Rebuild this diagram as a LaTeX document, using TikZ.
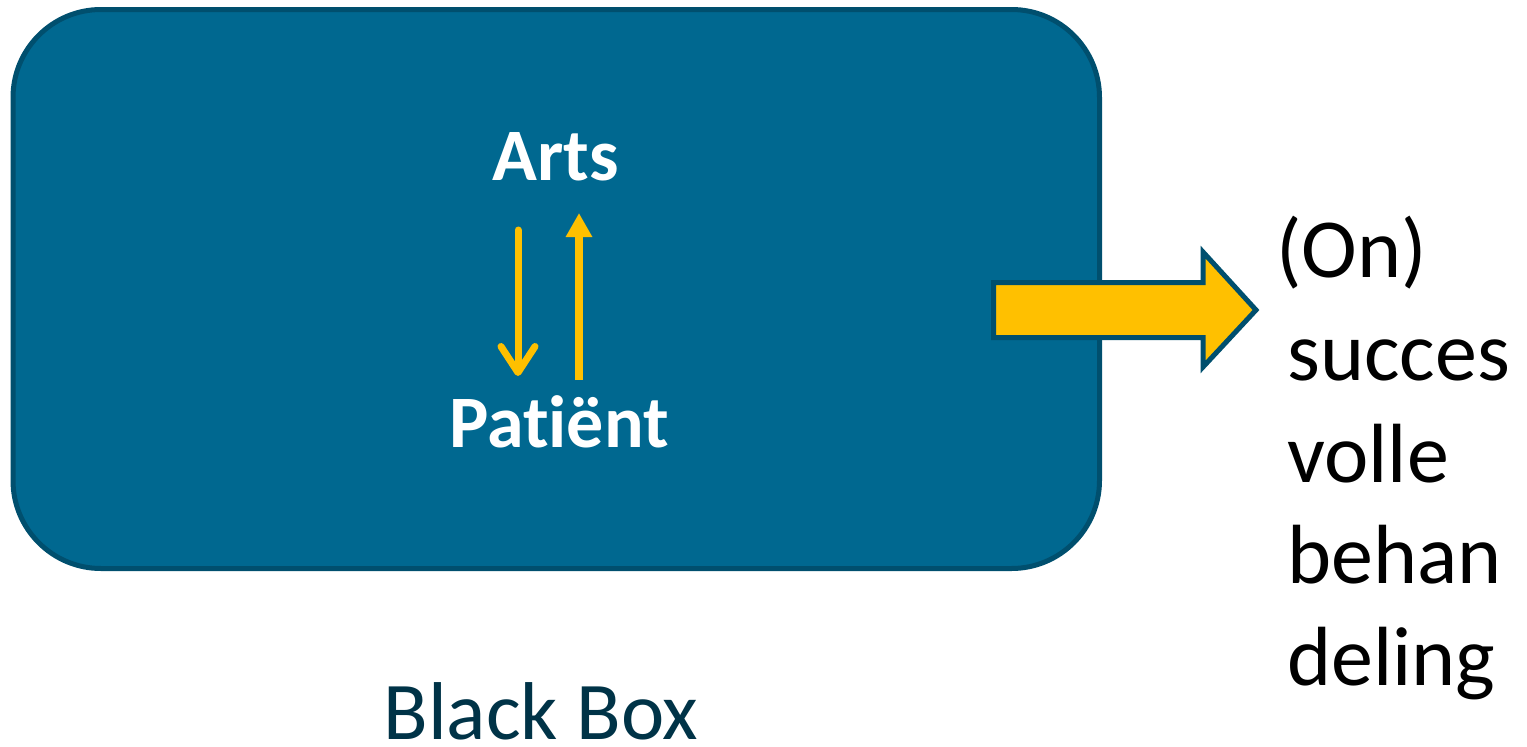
\documentclass[tikz,border=0pt]{standalone}
\usepackage{fontspec}
\setmainfont{Carlito}[Ligatures={NoCommon}]
\usetikzlibrary{arrows.meta}
\definecolor{boxfill}{RGB}{0,104,144}
\definecolor{boxline}{RGB}{0,79,110}
\definecolor{arrowyellow}{RGB}{255,192,0}
\definecolor{labelblue}{RGB}{0,51,71}
\tikzset{
  x=1pt, y=-1pt,
  bigbox/.style={fill=boxfill, draw=boxline, line width=5pt, rounded corners=88pt},
  boldlabel/.style={text=white, font=\fontsize{74}{88}\selectfont\bfseries, inner sep=0pt, anchor=base},
  outlabel/.style={text=black, font=\fontsize{84}{102}\selectfont, inner sep=0pt, anchor=base west},
  titlelabel/.style={text=labelblue, font=\fontsize{82}{100}\selectfont, inner sep=0pt, anchor=base},
  downarrow/.style={draw=arrowyellow, line width=7pt, line cap=round,
    -{Straight Barb[length=26pt,width=34pt,line cap=round,line join=round]}},
  uparrow/.style={draw=arrowyellow, line width=8pt,
    -{Triangle[length=24pt,width=25pt]}},
  blockarrow/.style={fill=arrowyellow, draw=boxline, line width=5pt, line join=miter}
}
\begin{document}
\begin{tikzpicture}
\useasboundingbox (0,0) rectangle (1527,747);
\draw[bigbox] (13,9.5) rectangle (1099.5,568.5);
\node[boldlabel] (arts) at (556,180) {Arts};
\node[boldlabel] (patient) at (559,447) {Pat\kern0pt iënt};
\coordinate (d1) at (518,230);
\coordinate (d2) at (518,376);
\coordinate (u1) at (579,380);
\coordinate (u2) at (579,213);
\draw[downarrow] (d1) -- (d2);
\draw[uparrow] (u1) -- (u2);
\draw[blockarrow] (993.5,282.5) -- (1203,282.5) -- (1203,252) -- (1256,310)
  -- (1203,367) -- (1203,337.5) -- (993.5,337.5) -- cycle;
\node[outlabel] (l1) at (1276,277) {(On)};
\node[outlabel] (l2) at (1287,380) {succes};
\node[outlabel] (l3) at (1287,482) {volle};
\node[outlabel] (l4) at (1287,583) {behan};
\node[outlabel] (l5) at (1287,685) {deling};
\node[titlelabel] (title) at (541,739) {Black Box};
\end{tikzpicture}
\end{document}
